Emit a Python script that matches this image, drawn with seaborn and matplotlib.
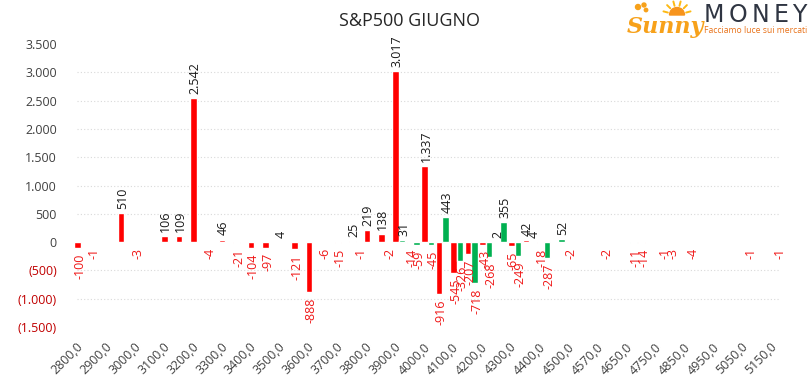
import numpy as np
import pandas as pd
import matplotlib
matplotlib.use("Agg")
import matplotlib.pyplot as plt
import matplotlib.patches as mpatches
import seaborn as sns

# ---------------- data ----------------
strikes = [2800, 2850, 2900, 2950, 3000, 3050, 3100, 3150, 3200, 3250,
           3300, 3350, 3400, 3450, 3500, 3550, 3600, 3650, 3700, 3750,
           3800, 3850, 3900, 3950, 4000, 4050, 4100, 4150, 4200, 4250,
           4300, 4350, 4400, 4450, 4500, 4550, 4570, 4600, 4650, 4700,
           4750, 4800, 4850, 4900, 4950, 5000, 5050, 5100, 5150]

serie_rossa = [-100, -1, None, 510, -3, None, 106, 109, 2542, -4,
               46, -21, -104, -97, 4, -121, -888, -6, -15, 25,
               219, 138, 3017, -14, 1337, -916, -545, -207, -43, 2,
               -65, 42, -18, None, -2, None, None, None, None, -14,
               None, -3, None, None, None, None, None, None, None]

serie_verde = [None, None, None, None, None, None, None, None, None, None,
               None, None, None, None, None, None, None, None, None, -1,
               None, -2, 31, -59, -45, 443, -326, -718, -268, 355,
               -249, 4, -287, 52, None, None, -2, None, -11, None,
               -1, None, -4, None, None, None, -1, None, -1]

y_ticks = [-1500, -1000, -500, 0, 500, 1000, 1500, 2000, 2500, 3000, 3500]
grid_levels = [-1000, -500, 500, 1000, 1500, 2000, 2500, 3000]
title = "S&P500 GIUGNO"

RED = "#FF0000"
GREEN = "#00B050"
LABEL_RED = "#F01818"
AXIS_RED = "#C00000"
TXT = "#404040"

# ---------------- frame ----------------
sns.set_theme(style="white")
plt.rcParams["font.family"] = ["Open Sans", "DejaVu Sans"]

cats = [str(s) for s in strikes]
df = pd.DataFrame({
    "strike": cats * 2,
    "serie": ["rossa"] * len(cats) + ["verde"] * len(cats),
    "valore": [np.nan if v is None else v for v in serie_rossa] +
              [np.nan if v is None else v for v in serie_verde],
})

fig = plt.figure(figsize=(8.1, 3.81), dpi=100)
ax = fig.add_axes([0.0909, 0.1417, 0.8747, 0.7428])

W = 0.9
sns.barplot(data=df.dropna(), x="strike", y="valore", hue="serie",
            order=cats, hue_order=["rossa", "verde"],
            palette={"rossa": RED, "verde": GREEN}, width=W,
            saturation=1, errorbar=None, legend=False, ax=ax, zorder=2)

ax.set_xlim(-0.5, len(cats) - 0.5)
ax.set_ylim(-1500, 3500)

ax.hlines(grid_levels, -0.25, len(cats) - 0.7, colors="#D9D9D9",
          linestyles=(0, (1, 2)), linewidth=0.8, zorder=0)

for s in ax.spines.values():
    s.set_visible(False)
ax.set_xlabel("")
ax.set_ylabel("")


def fmt_thousands(v):
    return f"{abs(v):,}".replace(",", ".")


# y ticks
ax.set_yticks(y_ticks)
ylabels = [fmt_thousands(v) if v >= 0 else f"({fmt_thousands(v)})" for v in y_ticks]
ax.set_yticklabels(ylabels, fontsize=9)
for lab, v in zip(ax.get_yticklabels(), y_ticks):
    lab.set_color(TXT if v >= 0 else AXIS_RED)
ax.tick_params(axis="y", length=0, pad=12)

# x ticks every other category
tick_idx = list(range(0, len(cats), 2))
ax.set_xticks(tick_idx)
ax.set_xticklabels([f"{strikes[i]:.1f}".replace(".", ",") for i in tick_idx],
                   rotation=45, ha="right", va="center",
                   rotation_mode="anchor", fontsize=9, color=TXT)
ax.tick_params(axis="x", length=0, pad=13)

# data labels
off = W / 4
for series, dx in ((serie_rossa, -off), (serie_verde, off)):
    for i, v in enumerate(series):
        if v is None:
            continue
        if v >= 0:
            ax.annotate(fmt_thousands(v), xy=(i + dx, v), xytext=(1, 3),
                        textcoords="offset points", rotation=90,
                        ha="center", va="bottom", fontsize=9, color="#1A1A1A")
        else:
            ax.annotate("-" + fmt_thousands(v), xy=(i + dx, v), xytext=(1.5, -4),
                        textcoords="offset points", rotation=90,
                        ha="center", va="top", fontsize=9, color=LABEL_RED)

fig.text(0.506, 0.945, title, ha="center", va="center", fontsize=13, color="#262626")

# ---------------- logo ----------------
T = fig.dpi_scale_trans
sun_c = (6.77, 3.66)
fig.patches.append(mpatches.Wedge(sun_c, 0.075, 0, 180, transform=T,
                                  color="#F7941D", zorder=1))
for ang in np.linspace(15, 165, 6):
    a = np.deg2rad(ang)
    fig.add_artist(plt.Line2D([sun_c[0] + 0.095 * np.cos(a), sun_c[0] + 0.14 * np.cos(a)],
                              [sun_c[1] + 0.095 * np.sin(a), sun_c[1] + 0.14 * np.sin(a)],
                              transform=T, color="#FDB913", lw=1.4))
for (cx, cy, r) in ((6.38, 3.74, 0.025), (6.44, 3.76, 0.02), (6.46, 3.71, 0.017)):
    fig.patches.append(mpatches.Circle((cx, cy), r, transform=T, color="#F7A11A"))
fig.text(6.27 / 8.1, 0.93, "Sunny", fontsize=16, fontstyle="italic", fontweight="bold",
         family=["DejaVu Serif"], color="#F7A11A", ha="left", va="center", zorder=3)
for ch, cx in zip("MONEY", (714, 738, 761, 781, 799)):
    fig.text(cx / 810, 0.961, ch, fontsize=17, color="#2F3542", ha="center",
             va="center", family=["DejaVu Sans"])
fig.text(704 / 810, 0.919, "Facciamo luce sui mercati", fontsize=6.2, color="#E8731B",
         ha="left", va="center")

fig.savefig("out.png", dpi=100)
